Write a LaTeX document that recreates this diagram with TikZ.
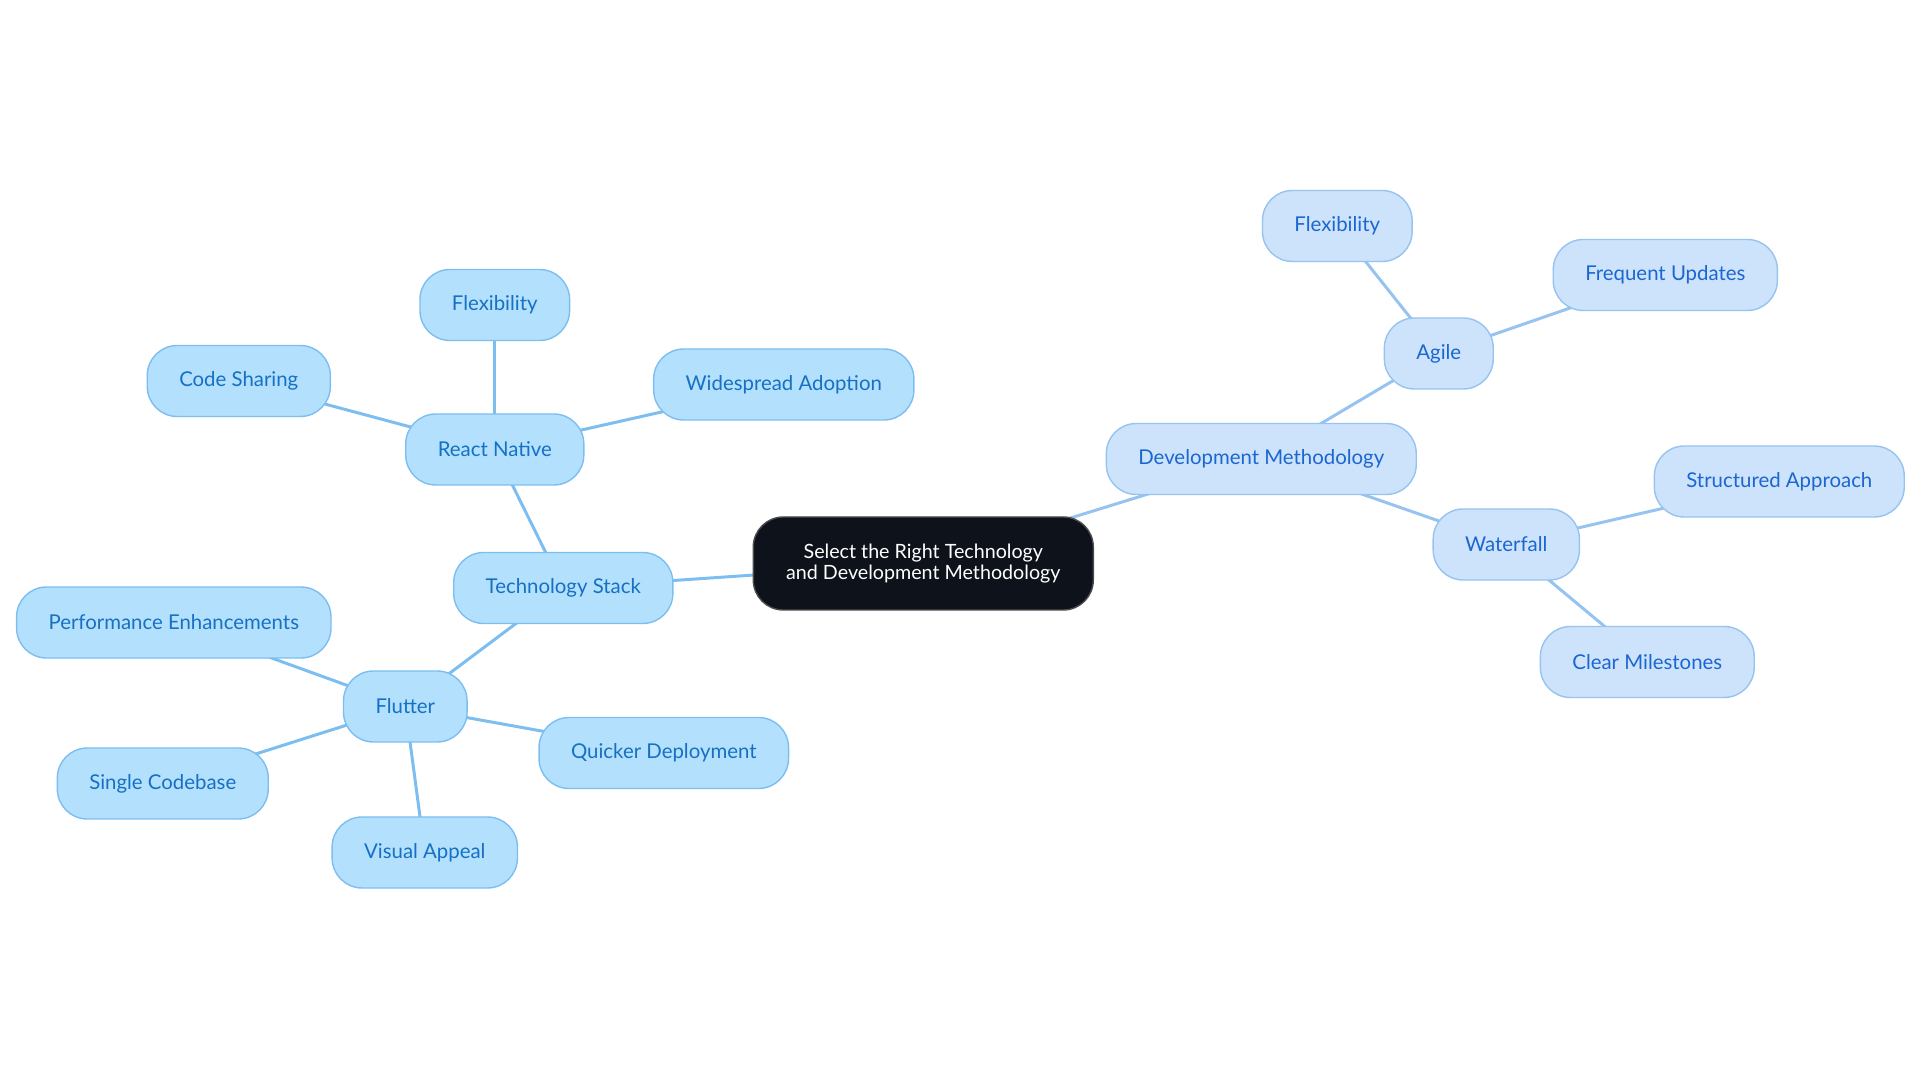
\documentclass[tikz,border=0pt]{standalone}
\usepackage{fontspec}
\setmainfont{Lato}
\usetikzlibrary{positioning,backgrounds}
\definecolor{techfill}{HTML}{B3E0FD}
\definecolor{techline}{HTML}{7DBEF0}
\definecolor{techtext}{HTML}{1670C4}
\definecolor{devfill}{HTML}{CDE3FB}
\definecolor{devline}{HTML}{96C3F0}
\definecolor{devtext}{HTML}{1B66D0}
\definecolor{rootfill}{HTML}{0D121B}

\begin{document}
\begin{tikzpicture}[node distance=2cm,on grid,
    topic/.style={rounded corners=0.6cm,minimum height=1.42cm,inner xsep=0.64cm,line width=0.8pt,
      font=\fontsize{11.6}{12}\selectfont},
    tech/.style={topic,draw=techline,fill=techfill,text=techtext},
    dev/.style={topic,draw=devline,fill=devfill,text=devtext},
    root/.style={rounded corners=0.6cm,minimum width=6.8cm,minimum height=1.86cm,align=center,
      draw=black!70,fill=rootfill,text=white,line width=0.8pt,font=\fontsize{11.2}{12}\selectfont}]
    \useasboundingbox (-18.466,-10.39) rectangle (19.934,11.27);

    \node[root] (root) at (0,0) {Select the Right Technology\\and Development Methodology};

    % technology branch
    \node[tech] (stack) [below left=0.49cm and 7.2cm of root] {Technology Stack};
    \node[tech] (react) [above left=2.77cm and 1.37cm of stack] {React Native};
    \node[tech] (flexa) [above=2.89cm of react] {Flexibility};
    \node[tech] (codeshare) [above left=1.37cm and 5.12cm of react] {Code Sharing};
    \node[tech] (adoption) [above right=1.3cm and 5.78cm of react] {Widespread Adoption};
    \node[tech] (flutter) [below left=2.37cm and 3.16cm of stack] {Flutter};
    \node[tech] (perf) [above left=1.68cm and 4.63cm of flutter] {Performance Enhancements};
    \node[tech] (codebase) [below left=1.54cm and 4.85cm of flutter] {Single Codebase};
    \node[tech] (visual) [below right=2.92cm and 0.39cm of flutter] {Visual Appeal};
    \node[tech] (quicker) [below right=0.93cm and 5.17cm of flutter] {Quicker Deployment};

    % methodology branch
    \node[dev] (method) [above right=2.09cm and 6.76cm of root] {Development Methodology};
    \node[dev] (agile) [above right=2.11cm and 3.55cm of method] {Agile};
    \node[dev] (flexb) [above left=2.55cm and 2.03cm of agile] {Flexibility};
    \node[dev] (updates) [above right=1.57cm and 4.53cm of agile] {Frequent Updates};
    \node[dev] (waterfall) [below right=1.71cm and 4.9cm of method] {Waterfall};
    \node[dev] (structured) [above right=1.26cm and 5.46cm of waterfall] {Structured Approach};
    \node[dev] (milestones) [below right=2.35cm and 2.82cm of waterfall] {Clear Milestones};

    % links, centre to centre behind the boxes
    \begin{scope}[on background layer]
    \path[draw=techline,line width=1.7pt] (root.center) edge (stack.center)
              (stack.center) edge (react.center)
              (react.center) edge (flexa.center)
              (react.center) edge (codeshare.center)
              (react.center) edge (adoption.center)
              (stack.center) edge (flutter.center)
              (flutter.center) edge (perf.center)
              (flutter.center) edge (codebase.center)
              (flutter.center) edge (visual.center)
              (flutter.center) edge (quicker.center);
    \path[draw=devline,line width=1.7pt] (root.center) edge (method.center)
              (method.center) edge (agile.center)
              (agile.center) edge (flexb.center)
              (agile.center) edge (updates.center)
              (method.center) edge (waterfall.center)
              (waterfall.center) edge (structured.center)
              (waterfall.center) edge (milestones.center);
    \end{scope}
\end{tikzpicture}
\end{document}
